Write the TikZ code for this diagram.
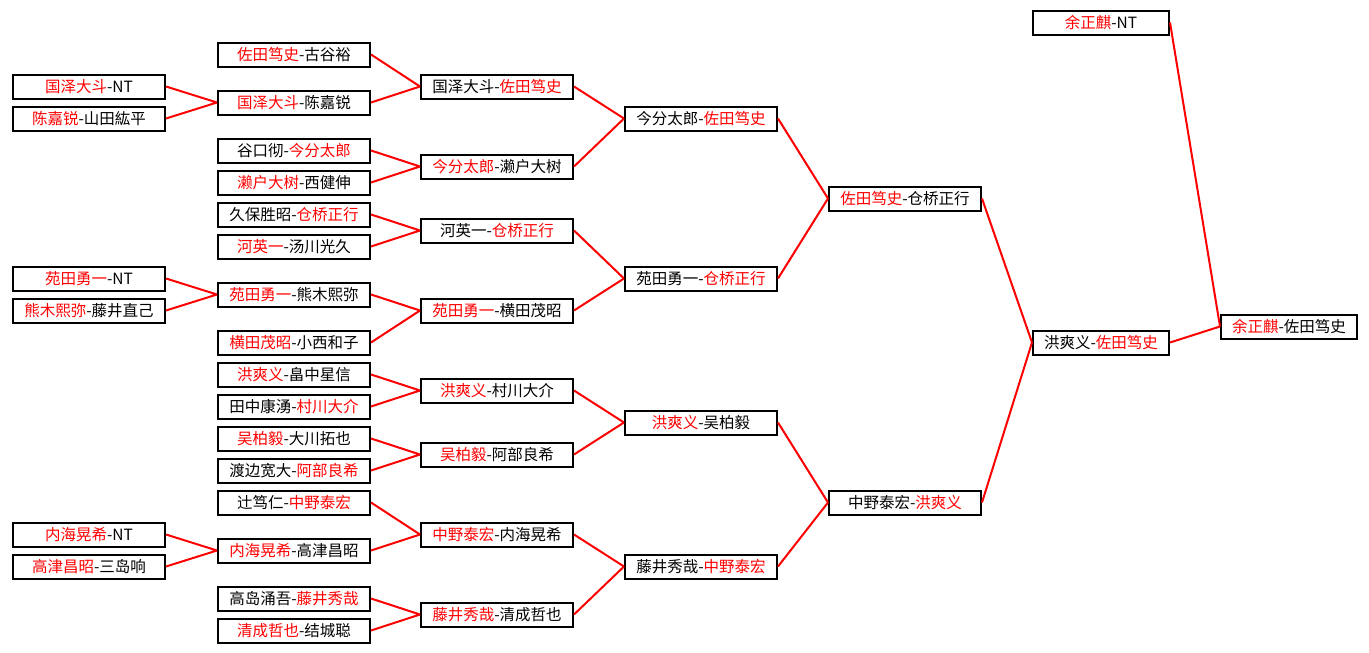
\documentclass[tikz,border=0pt]{standalone}
\usepackage{fontspec}
\setmainfont{Noto Sans CJK SC}
\usetikzlibrary{positioning}
\newcommand{\win}[1]{\textcolor{red}{#1}}

\begin{document}
\begin{tikzpicture}
    [x=1pt, y=-1pt,
      game/.style={draw, rectangle, line width=2pt, minimum width=152pt, minimum height=24pt, inner sep=0pt, font=\fontsize{15.5}{16}\selectfont},
      short/.style={game, minimum width=136pt},
      link/.style={draw=red, line width=2pt}
    ]
    \useasboundingbox (0,0) rectangle (1369,653);
    % preliminary
    \node [game] (p1) at (89,86.5) {\win{国泽大斗}-NT};
    \node [game] (p2) at (89,118.5) {\win{陈嘉锐}-山田紘平};
    \node [game] (p3) at (89,278.5) {\win{苑田勇一}-NT};
    \node [game] (p4) at (89,310.5) {\win{熊木熙弥}-藤井直己};
    \node [game] (p5) at (89,534.5) {\win{内海晃希}-NT};
    \node [game] (p6) at (89,566.5) {\win{高津昌昭}-三岛响};
    % first round
    \node [game] (a1) at (294,54.5) {\win{佐田笃史}-古谷裕};
    \node [game] (a2) at (294,102.5) {\win{国泽大斗}-陈嘉锐};
    \node [game] (a3) at (294,150.5) {谷口彻-\win{今分太郎}};
    \node [game] (a4) at (294,182.5) {\win{濑户大树}-西健伸};
    \node [game] (a5) at (294,214.5) {久保胜昭-\win{仓桥正行}};
    \node [game] (a6) at (294,246.5) {\win{河英一}-汤川光久};
    \node [game] (a7) at (294,294.5) {\win{苑田勇一}-熊木熙弥};
    \node [game] (a8) at (294,342.5) {\win{横田茂昭}-小西和子};
    \node [game] (a9) at (294,374.5) {\win{洪爽义}-畠中星信};
    \node [game] (a10) at (294,406.5) {田中康湧-\win{村川大介}};
    \node [game] (a11) at (294,438.5) {\win{吴柏毅}-大川拓也};
    \node [game] (a12) at (294,470.5) {渡边宽大-\win{阿部良希}};
    \node [game] (a13) at (294,502.5) {辻笃仁-\win{中野泰宏}};
    \node [game] (a14) at (294,550.5) {\win{内海晃希}-高津昌昭};
    \node [game] (a15) at (294,598.5) {高岛涌吾-\win{藤井秀哉}};
    \node [game] (a16) at (294,630.5) {\win{清成哲也}-结城聪};
    % second round
    \node [game] (b1) at (497,86.5) {国泽大斗-\win{佐田笃史}};
    \node [game] (b2) at (497,166.5) {\win{今分太郎}-濑户大树};
    \node [game] (b3) at (497,230.5) {河英一-\win{仓桥正行}};
    \node [game] (b4) at (497,310.5) {\win{苑田勇一}-横田茂昭};
    \node [game] (b5) at (497,390.5) {\win{洪爽义}-村川大介};
    \node [game] (b6) at (497,454.5) {\win{吴柏毅}-阿部良希};
    \node [game] (b7) at (497,534.5) {\win{中野泰宏}-内海晃希};
    \node [game] (b8) at (497,614.5) {\win{藤井秀哉}-清成哲也};
    % quarter final
    \node [game] (c1) at (701,118.5) {今分太郎-\win{佐田笃史}};
    \node [game] (c2) at (701,278.5) {苑田勇一-\win{仓桥正行}};
    \node [game] (c3) at (701,422.5) {\win{洪爽义}-吴柏毅};
    \node [game] (c4) at (701,566.5) {藤井秀哉-\win{中野泰宏}};
    % semi final
    \node [game] (d1) at (905,198.5) {\win{佐田笃史}-仓桥正行};
    \node [game] (d2) at (905,502.5) {中野泰宏-\win{洪爽义}};
    % final
    \node [short] (e0) at (1101,22.5) {\win{余正麒}-NT};
    \node [short] (e1) at (1101,342.5) {洪爽义-\win{佐田笃史}};
    \node [short] (f1) at (1289,326.5) {\win{余正麒}-佐田笃史};

    \path [link] (p1.east) -- (a2.west) (p2.east) -- (a2.west);
    \path [link] (p3.east) -- (a7.west) (p4.east) -- (a7.west);
    \path [link] (p5.east) -- (a14.west) (p6.east) -- (a14.west);
    \path [link] (a1.east) -- (b1.west) (a2.east) -- (b1.west);
    \path [link] (a3.east) -- (b2.west) (a4.east) -- (b2.west);
    \path [link] (a5.east) -- (b3.west) (a6.east) -- (b3.west);
    \path [link] (a7.east) -- (b4.west) (a8.east) -- (b4.west);
    \path [link] (a9.east) -- (b5.west) (a10.east) -- (b5.west);
    \path [link] (a11.east) -- (b6.west) (a12.east) -- (b6.west);
    \path [link] (a13.east) -- (b7.west) (a14.east) -- (b7.west);
    \path [link] (a15.east) -- (b8.west) (a16.east) -- (b8.west);
    \path [link] (b1.east) -- (c1.west) (b2.east) -- (c1.west);
    \path [link] (b3.east) -- (c2.west) (b4.east) -- (c2.west);
    \path [link] (b5.east) -- (c3.west) (b6.east) -- (c3.west);
    \path [link] (b7.east) -- (c4.west) (b8.east) -- (c4.west);
    \path [link] (c1.east) -- (d1.west) (c2.east) -- (d1.west);
    \path [link] (c3.east) -- (d2.west) (c4.east) -- (d2.west);
    \path [link] (d1.east) -- (e1.west) (d2.east) -- (e1.west);
    \path [link] (e0.east) -- (f1.west) (e1.east) -- (f1.west);
  \end{tikzpicture}
\end{document}
